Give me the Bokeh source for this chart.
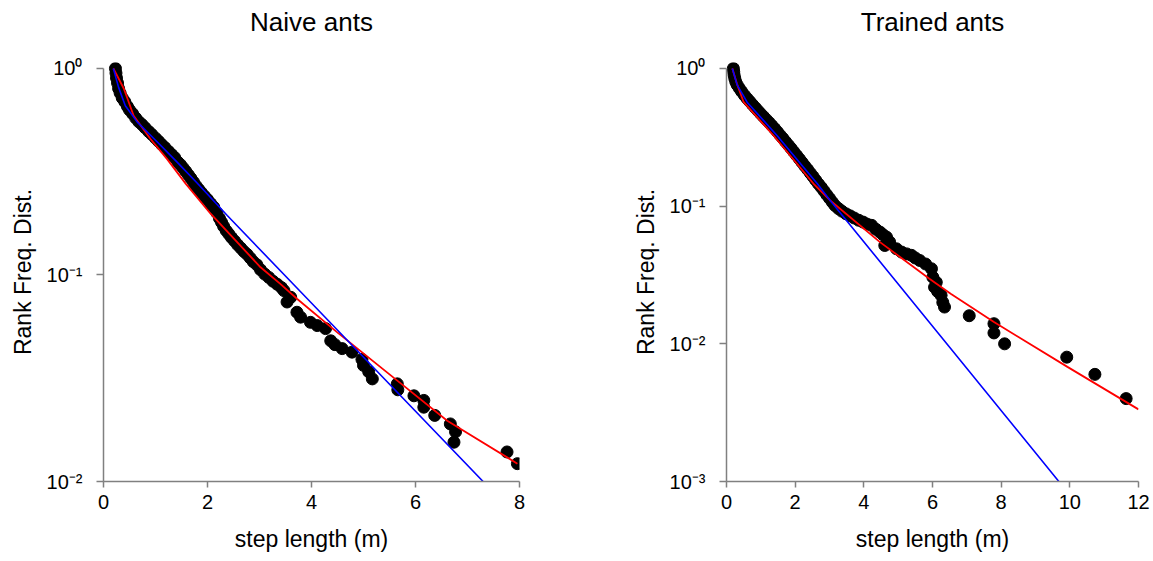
from bokeh.plotting import figure
from bokeh.layouts import row
from bokeh.models import Range1d, FixedTicker, CustomJSTickFormatter, LinearAxis
from bokeh.embed import file_html
from bokeh.resources import INLINE

# ---------------- Naive ants ----------------
naive_x = [0.23, 0.24, 0.25, 0.27, 0.29, 0.32, 0.36, 0.41, 0.46, 0.50, 0.56, 0.62, 0.68, 0.74,
           0.80, 0.87, 0.93, 1.00, 1.06, 1.12, 1.18, 1.25, 1.31, 1.37, 1.43, 1.48, 1.53, 1.58,
           1.63, 1.68, 1.73, 1.78, 1.83, 1.88, 1.94, 2.00, 2.06, 2.12, 2.18, 2.23, 2.27, 2.31,
           2.36, 2.41, 2.46, 2.52, 2.58, 2.64, 2.70, 2.76, 2.82, 2.88, 2.95, 3.02, 3.10, 3.18,
           3.26, 3.34, 3.42, 3.47, 3.53, 3.60, 3.72, 3.79, 3.98, 4.11, 4.27, 4.37, 4.45, 4.59,
           4.78, 4.97, 5.00, 5.10, 5.17, 5.65, 5.66, 5.97, 6.16, 6.16, 6.37, 6.67, 6.77, 6.74,
           7.76, 7.96]
naive_y = [1.00, 0.95, 0.90, 0.85, 0.80, 0.76, 0.72, 0.69, 0.655, 0.63, 0.604, 0.575, 0.552, 0.535,
           0.516, 0.495, 0.479, 0.460, 0.444, 0.428, 0.414, 0.397, 0.383, 0.370, 0.352, 0.342, 0.330, 0.318,
           0.306, 0.294, 0.282, 0.270, 0.260, 0.251, 0.241, 0.232, 0.222, 0.213, 0.200, 0.188, 0.180, 0.172,
           0.164, 0.158, 0.152, 0.146, 0.140, 0.135, 0.130, 0.126, 0.121, 0.116, 0.112, 0.106, 0.101, 0.0973,
           0.0933, 0.0902, 0.087, 0.084, 0.074, 0.078, 0.066, 0.0625, 0.059, 0.0569, 0.055, 0.048, 0.046, 0.044,
           0.0423, 0.039, 0.0365, 0.034, 0.0314, 0.0297, 0.0278, 0.026, 0.0247, 0.0229, 0.0209, 0.019, 0.0174, 0.0155,
           0.0139, 0.0122]
naive_blue_x = [0.19, 0.29, 0.42, 0.65, 1.03, 1.42, 1.80, 2.38, 3.92, 7.30]
naive_blue_y = [1.00, 0.81, 0.66, 0.55, 0.442, 0.351, 0.279, 0.194, 0.0767, 0.010]
naive_red_x = [0.19, 0.39, 0.58, 0.90, 1.22, 1.58, 2.06, 3.02, 3.40, 3.72, 4.49, 5.65, 6.61, 7.96]
naive_red_y = [1.00, 0.80, 0.59, 0.457, 0.365, 0.277, 0.198, 0.109, 0.0906, 0.0767, 0.0529, 0.0308, 0.0197, 0.0122]

# ---------------- Trained ants ----------------
trained_x = [0.20, 0.21, 0.22, 0.24, 0.27, 0.31, 0.37, 0.44, 0.52, 0.60, 0.68, 0.76, 0.84, 0.92,
             1.00, 1.08, 1.16, 1.24, 1.32, 1.40, 1.48, 1.56, 1.64, 1.72, 1.80, 1.88, 1.96, 2.04,
             2.12, 2.20, 2.28, 2.36, 2.44, 2.52, 2.60, 2.68, 2.76, 2.84, 2.92, 3.00, 3.08, 3.16,
             3.26, 3.36, 3.48, 3.60, 3.72, 3.85, 3.98, 4.10, 4.23, 4.35, 4.47, 4.56, 4.66, 4.61,
             4.75, 4.95, 5.10, 5.25, 5.39, 5.50, 5.63, 5.80, 5.97, 6.01, 6.11, 6.06, 6.15, 6.25,
             6.30, 6.35, 7.07, 7.79, 7.79, 8.10, 9.91, 10.73, 11.64]
trained_y = [1.00, 0.95, 0.90, 0.85, 0.80, 0.76, 0.72, 0.68, 0.64, 0.605, 0.575, 0.545, 0.518, 0.492,
             0.468, 0.446, 0.425, 0.405, 0.385, 0.366, 0.347, 0.328, 0.311, 0.294, 0.278, 0.263, 0.248, 0.234,
             0.221, 0.208, 0.196, 0.185, 0.174, 0.164, 0.154, 0.145, 0.137, 0.129, 0.121, 0.114, 0.107, 0.101,
             0.096, 0.092, 0.088, 0.085, 0.082, 0.079, 0.0766, 0.074, 0.0725, 0.068, 0.0648, 0.062, 0.0596, 0.0518,
             0.055, 0.049, 0.0464, 0.045, 0.0439, 0.042, 0.0403, 0.038, 0.0351, 0.0305, 0.028, 0.0258, 0.024, 0.0225,
             0.020, 0.0185, 0.016, 0.014, 0.012, 0.010, 0.0080, 0.006, 0.004]
trained_blue_x = [0.17, 0.31, 0.60, 1.47, 2.64, 3.02, 9.68]
trained_blue_y = [1.00, 0.76, 0.569, 0.326, 0.146, 0.110, 0.001]
trained_red_x = [0.17, 0.30, 0.50, 1.37, 2.53, 3.02, 4.47, 5.91, 6.53, 7.79, 9.93, 12.0]
trained_red_y = [1.00, 0.78, 0.569, 0.326, 0.146, 0.110, 0.0548, 0.0297, 0.0231, 0.0144, 0.0068, 0.00334]

titles = ["Naive ants", "Trained ants"]
x_label = "step length (m)"
y_label = "Rank Freq. Dist."
naive_xticks = [0, 2, 4, 6, 8]
trained_xticks = [0, 2, 4, 6, 8, 10, 12]
naive_yticks = [0.01, 0.1, 1]
trained_yticks = [0.001, 0.01, 0.1, 1]

FONT = "Liberation Sans"
AXIS_COLOR = "#808080"

sup_fmt = CustomJSTickFormatter(code="""
const e = Math.round(Math.log10(tick));
const sup = {'0':'\u2070','1':'\u00b9','2':'\u00b2','3':'\u00b3','-':'\u207b'};
return '10' + String(e).split('').map(c => sup[c]).join('');
""")


def make_panel(title, xs, ys, bx, by, rx, ry, xmax, ymin, ytop, xticks, yticks,
               width, bl, br):
    p = figure(width=width, height=560, y_axis_type="log",
               x_range=Range1d(0, xmax), y_range=Range1d(ymin, ytop),
               output_backend="svg", toolbar_location=None,
               min_border_left=bl, min_border_right=br,
               min_border_top=62, min_border_bottom=79)
    p.outline_line_color = None
    p.xgrid.visible = False
    p.ygrid.visible = False

    xb = p.below[0]
    yl = p.left[0]

    # title drawn as the label of an otherwise empty top axis
    top = LinearAxis(ticker=FixedTicker(ticks=[]), axis_line_color=None,
                     major_tick_line_color=None, minor_tick_line_color=None,
                     major_tick_out=0, major_tick_in=0, major_label_standoff=0,
                     axis_label=title, axis_label_standoff=26,
                     axis_label_text_font=FONT, axis_label_text_font_size="26px",
                     axis_label_text_font_style="normal", axis_label_text_color="black")
    p.add_layout(top, "above")

    p.scatter(xs, ys, size=12, fill_color="black", line_color="black")
    p.line(rx, ry, line_color="#ff0000", line_width=1.8)
    p.line(bx, by, line_color="#0000ff", line_width=1.6)

    for ax in (xb, yl):
        ax.axis_line_color = AXIS_COLOR
        ax.axis_line_width = 1.5
        ax.major_tick_line_color = AXIS_COLOR
        ax.major_tick_line_width = 1.5
        ax.minor_tick_line_color = None
        ax.major_tick_in = 0
        ax.major_label_text_font = FONT
        ax.major_label_text_font_size = "20px"
        ax.major_label_text_color = "black"
        ax.axis_label_text_font = FONT
        ax.axis_label_text_font_size = "23px"
        ax.axis_label_text_font_style = "normal"
        ax.axis_label_text_color = "black"

    xb.ticker = FixedTicker(ticks=xticks)
    xb.major_tick_out = 6
    xb.major_label_standoff = 7
    xb.axis_label = x_label
    xb.axis_label_standoff = 14

    yl.ticker = FixedTicker(ticks=yticks)
    yl.formatter = sup_fmt
    yl.bounds = (ymin, 1)
    yl.major_tick_out = 7
    yl.major_label_standoff = 14
    yl.axis_label = y_label
    yl.axis_label_standoff = 8
    return p


p1 = make_panel(titles[0], naive_x, naive_y, naive_blue_x, naive_blue_y,
                naive_red_x, naive_red_y, 8, 0.01, 1.069, naive_xticks, naive_yticks,
                600, 103, 81)
p2 = make_panel(titles[1], trained_x, trained_y, trained_blue_x, trained_blue_y,
                trained_red_x, trained_red_y, 12, 0.001, 1.105, trained_xticks, trained_yticks,
                552, 126, 14)

layout = row(p1, p2)
open("out.html", "w").write(file_html(layout, INLINE))
